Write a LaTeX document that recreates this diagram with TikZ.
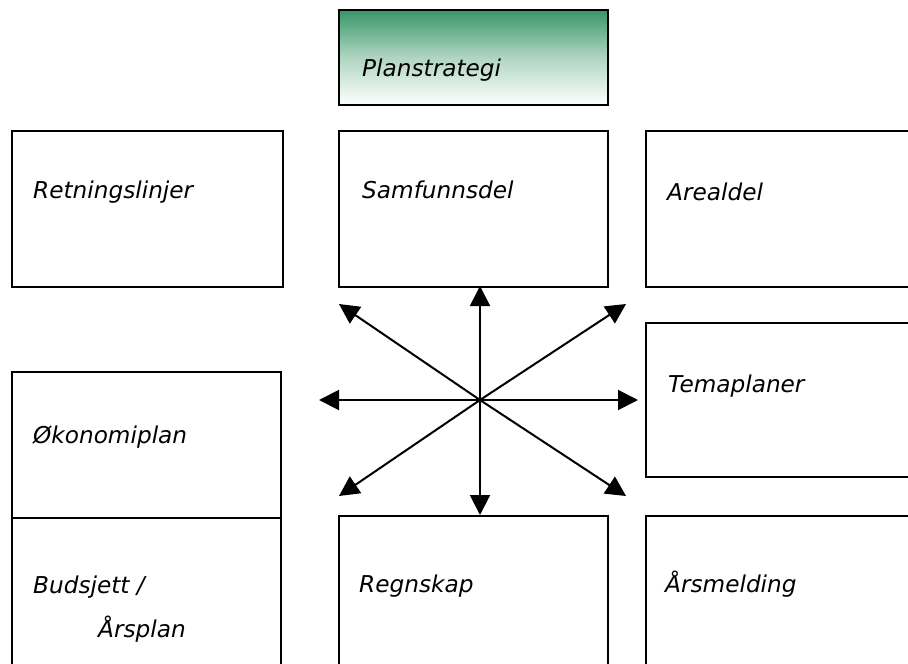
\documentclass[tikz,border=0pt]{standalone}
\usepackage{fontspec}
\setmainfont{DejaVu Sans}
\usetikzlibrary{arrows.meta}
\definecolor{plangreen}{RGB}{56,150,104}
\tikzset{
  box/.style={draw=black, line width=1.9pt, rectangle, inner sep=0pt, anchor=north west},
  lbl/.style={inner sep=0pt, anchor=base west, font=\fontsize{23.2}{28}\selectfont\itshape},
  conn/.style={line width=2pt, -{Triangle[length=20pt 0,width=20pt 0]}}
}
\begin{document}
\begin{tikzpicture}[x=1pt,y=-1pt]
\useasboundingbox (0,0) rectangle (908,664);
\clip (0,0) rectangle (908,664);
\fill[white] (0,0) rectangle (908,664);
% boxes
\node[box, minimum width=269pt, minimum height=95pt, top color=plangreen, bottom color=white, middle color=plangreen!40!white] (plan) at (338,9) {};
\node[box, minimum width=271pt, minimum height=156pt] (retn) at (11,130) {};
\node[box, minimum width=269pt, minimum height=156pt] (samf) at (338,130) {};
\node[box, minimum width=280pt, minimum height=156pt] (areal) at (645,130) {};
\node[box, minimum width=280pt, minimum height=154pt] (tema) at (645,322) {};
\node[box, minimum width=269pt, minimum height=146pt] (okon) at (11,371) {};
\node[box, minimum width=269pt, minimum height=170pt] (buds) at (11,517) {};
\node[box, minimum width=269pt, minimum height=170pt] (regn) at (338,515) {};
\node[box, minimum width=280pt, minimum height=170pt] (arsm) at (645,515) {};
% labels
\node[lbl] (tplan) at (362,76) {Planstrategi};
\node[lbl] (tretn) at (33,198) {Retningslinjer};
\node[lbl] (tsamf) at (362,198) {Samfunnsdel};
\node[lbl] (tareal) at (667,200) {Arealdel};
\node[lbl] (ttema) at (668,392) {Temaplaner};
\node[lbl] (tokon) at (33,443) {Økonomiplan};
\node[lbl] (tbuds) at (33,593) {Budsjett /};
\node[lbl] (tars) at (98,637) {Årsplan};
\node[lbl] (tregn) at (359,592) {Regnskap};
\node[lbl] (tarsm) at (665,592) {Årsmelding};
% arrows
\coordinate (c) at (480,400);
\coordinate (pu) at (480,286);
\coordinate (pd) at (480,515);
\coordinate (pl) at (319,400);
\coordinate (pr) at (638,400);
\coordinate (pul) at (339,304);
\coordinate (pur) at (626,304);
\coordinate (pdl) at (339,496);
\coordinate (pdr) at (626,496);
\foreach \p in {pu,pd,pl,pr,pul,pur,pdl,pdr}{
  \draw[conn] (c) -- (\p);
}
\end{tikzpicture}
\end{document}
